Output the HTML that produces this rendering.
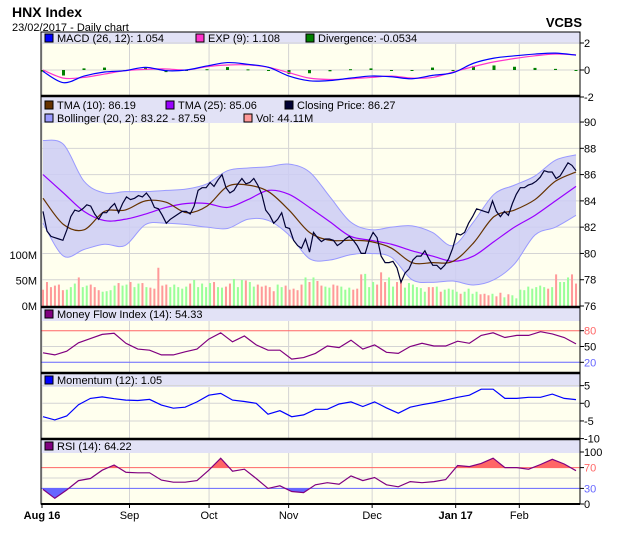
<!DOCTYPE html>
<html><head><meta charset="utf-8"><style>
html,body{margin:0;padding:0;background:#fff;}
svg{display:block;font-family:"Liberation Sans",Arial,sans-serif;}
</style></head><body>
<svg id="chart" width="620" height="535" viewBox="0 0 620 535" xmlns="http://www.w3.org/2000/svg">
<text x="12" y="17" font-size="14" font-weight="bold" fill="#000">HNX Index</text>
<text x="12" y="31" font-size="11" fill="#000">23/02/2017 - Daily chart</text>
<text x="582" y="27" font-size="13" font-weight="bold" fill="#000" text-anchor="end">VCBS</text>
<g id="layers"></g>
</svg>
<script>
// ---------- DATA ----------
const closePrices = [83.2,81.7,81.3,81.2,81.1,81.0,81.8,82.8,83.3,83.2,83.4,83.7,83.6,83.0,82.6,83.1,83.1,83.5,83.8,83.1,
83.8,84.3,84.1,84.2,84.4,84.3,84.6,84.2,83.5,83.4,82.9,82.3,82.6,82.8,83.0,83.2,83.2,83.0,83.6,84.8,
85.0,85.0,85.4,85.1,85.6,86.0,85.0,84.6,84.8,85.3,85.7,85.3,85.4,85.7,85.2,84.5,83.3,82.9,82.3,82.6,
83.1,82.0,81.9,81.0,80.6,80.4,81.1,80.1,81.6,81.2,80.9,81.1,81.1,81.0,80.6,80.8,81.1,81.3,81.0,80.6,
80.0,80.0,81.0,81.6,81.2,79.8,79.3,79.3,79.4,78.9,77.8,78.5,78.8,79.5,79.8,79.8,80.2,79.6,79.1,79.1,
78.8,79.1,79.6,80.4,81.5,81.4,81.6,82.3,82.8,83.4,83.3,83.2,83.1,84.0,83.2,82.8,83.2,82.9,83.8,84.5,
85.0,85.0,85.2,85.3,85.5,85.8,86.3,86.2,86.2,85.7,85.9,86.4,86.9,86.7,86.3];
const volumes = [32,47,37,40,42,31,32,37,44,56,37,40,42,37,31,28,29,31,40,45,40,42,47,37,44,45,37,36,34,75,
40,42,37,42,37,34,38,44,51,37,44,37,45,47,37,36,38,44,53,37,51,50,47,38,42,38,40,37,29,42,37,40,32,34,31,42,56,47,
56,49,40,38,36,42,40,38,32,36,32,34,62,63,37,47,42,66,47,56,38,47,51,36,45,42,37,35,28,37,37,38,28,32,34,32,
28,24,28,34,24,28,23,24,21,24,19,26,17,23,21,15,32,31,38,34,37,40,37,34,37,62,47,47,56,62,44];
// smoothed series, 27 samples evenly spread over the period
const tma10 = [84.2,82.2,81.8,83.2,83.3,84.0,83.9,83.1,83.6,85.1,85.2,84.7,83.3,81.6,81.0,81.0,80.9,80.4,79.3,79.3,79.4,80.8,82.8,83.3,84.1,85.5,86.2];
const tma25 = [86.0,84.6,83.2,82.5,82.6,83.0,83.5,83.8,83.8,83.5,84.1,84.8,84.5,83.5,82.4,81.3,81.0,80.7,80.2,79.8,79.4,79.8,80.9,82.0,82.9,84.0,85.1];
const bollUpper = [88.6,88.3,85.5,84.6,84.7,84.7,84.8,84.9,85.3,86.3,86.5,86.6,86.8,86.2,84.3,82.4,81.8,82.0,82.1,81.6,80.6,82.4,84.5,85.2,85.9,87.1,87.5];
const bollLower = [82.3,79.8,80.3,80.7,80.6,82.2,82.3,82.2,82.0,81.9,82.6,82.5,81.4,79.6,79.5,79.9,80.0,79.7,78.0,77.8,77.9,77.6,78.0,79.2,81.4,82.0,82.9];
const macdVals = [-0.1,-0.94,-0.45,-0.15,-0.05,0.2,-0.05,0.0,0.3,0.55,0.42,0.2,-0.45,-0.8,-0.78,-0.6,-0.45,-0.5,-0.65,-0.4,-0.2,0.5,0.88,1.05,1.18,1.25,1.1];
const expVals = [0,-0.6,-0.55,-0.3,-0.05,0.05,0.08,0.0,0.25,0.37,0.38,0.2,-0.2,-0.6,-0.7,-0.65,-0.55,-0.45,-0.6,-0.55,-0.15,0.25,0.6,0.85,1.05,1.18,1.12];
// oscillators, 46 samples evenly spread
const mfiVals = [38,34,41,57,65,73,75,56,45,43,34,34,40,45,64,76,59,70,53,43,43,26,29,37,51,48,62,45,53,39,37,50,56,51,51,60,56,71,76,67,71,71,78,74,67,55];
const momVals = [-3.8,-4.7,-3.6,-0.4,1.4,1.8,1.3,0.9,0.8,1.1,-0.5,-1.4,-1.1,0.4,2.3,2.8,0.9,0.5,0,-3.1,-2.1,-3.8,-3.3,-1.7,-1.7,-0.2,0.4,-0.9,0.4,-1.3,-2.8,-1.1,-0.4,0.2,0.9,1.7,2.3,4.0,4.0,1.4,1.4,1.7,1.7,2.6,1.4,1.05];
const rsiVals = [28,11,27,45,49,65,75,61,60,60,46,42,42,45,65,88,63,67,49,30,35,24,22,37,41,38,54,45,51,37,33,43,41,43,47,74,72,78,88,70,70,67,76,86,77,64];
const monthLabels = ["Aug 16","Sep","Oct","Nov","Dec","Jan 17","Feb"];
const monthDays = [0,22,42,62,83,104,120];
const monthBold = [true,false,false,false,false,true,false];

// ---------- LAYOUT ----------
const NS="http://www.w3.org/2000/svg";
const root=document.getElementById('layers');
const L=41, R=580, N=closePrices.length;
const xDay=d=>43+d*((R-4-43)/(N-1));
const xFrac=(k,n)=>xDay(k*(N-1)/(n-1));
function mk(tag,attrs,parent){const e=document.createElementNS(NS,tag);for(const k in attrs)e.setAttribute(k,attrs[k]);(parent||root).appendChild(e);return e;}
function txt(x,y,s,attrs,parent){const t=mk('text',Object.assign({x:x,y:y,'font-size':11,fill:'#000'},attrs||{}),parent);t.textContent=s;return t;}
const BG='#FFFFEE', HEAD='#E2E2F6', GRID='#D4D4D4';
const monthX=monthDays.map(d=>xDay(d)-1);

function panel(name,top,headH,bottom){
  const g=mk('g',{});
  
  
  mk('rect',{x:L,y:top,width:R-L,height:bottom-top,fill:BG},g);
  mk('rect',{x:L,y:top,width:R-L,height:headH,fill:HEAD},g);
  monthX.forEach(x=>mk('line',{x1:x,y1:top+headH,x2:x,y2:bottom,stroke:GRID,'stroke-width':1},g));
  return g;
}
function hgrid(g,y,color){mk('line',{x1:L,y1:y,x2:R,y2:y,stroke:color||GRID,'stroke-width':1},g);}
function rtick(g,y,label,color){mk('line',{x1:R,y1:y,x2:R+4,y2:y,stroke:'#000'},g);txt(R+4,y+4,label,{fill:color||'#000'},g);}
function legend(g,x,y,color,label){const s=mk('rect',{x:x,y:y-8,width:8,height:8,fill:color,stroke:'#000','stroke-width':1},g);const t=txt(x+12,y,label,{},g);}
function smoothPath(pts){let d='M'+pts[0][0]+','+pts[0][1];for(let i=0;i<pts.length-1;i++){const p0=pts[Math.max(0,i-1)],p1=pts[i],p2=pts[i+1],p3=pts[Math.min(pts.length-1,i+2)];d+=' C'+(p1[0]+(p2[0]-p0[0])/6)+','+(p1[1]+(p2[1]-p0[1])/6)+' '+(p2[0]-(p3[0]-p1[0])/6)+','+(p2[1]-(p3[1]-p1[1])/6)+' '+p2[0]+','+p2[1];}return d;}
function poly(pts){return pts.map(p=>p[0].toFixed(1)+','+p[1].toFixed(1)).join(' ');}

// ---------- MACD ----------
const mTop=32, mHead=12, mBot=96;
const yM=v=>70-v*13.5;
const gM=panel('macd-panel',mTop,mHead,mBot);
[2,0,-2].forEach(v=>{hgrid(gM,yM(v));rtick(gM,yM(v),String(v));});
macdVals.forEach((v,k)=>{
  const dv=v-expVals[k];const y0=yM(0),y1=yM(dv*1.2);
  const b=mk('rect',{x:xFrac(k,macdVals.length)-1.5,y:Math.min(y0,y1),width:3,height:Math.max(1,Math.abs(y1-y0)),fill:'#008000'},gM);
  
});
const expLine=mk('path',{d:smoothPath(expVals.map((v,k)=>[xFrac(k,expVals.length),yM(v)])),fill:'none',stroke:'#FF33CC','stroke-width':1.2},gM);

const macdLine=mk('path',{d:smoothPath(macdVals.map((v,k)=>[xFrac(k,macdVals.length),yM(v)])),fill:'none',stroke:'#0000FF','stroke-width':1.2},gM);

legend(gM,45,42,'#0000FF','MACD (26, 12): 1.054');
legend(gM,196,42,'#FF33CC','EXP (9): 1.108');
legend(gM,306,42,'#008000','Divergence: -0.0534');

// ---------- MAIN PRICE ----------
const pTop=97, pHead=26, pBot=306;
const yP=v=>306-(v-76)*13.14;
const yV=v=>306-v*0.51;
const gP=panel('price-panel',pTop,pHead,pBot);
[88,86,84,82,80,78].forEach(v=>hgrid(gP,yP(v)));
[90,88,86,84,82,80,78,76].forEach(v=>rtick(gP,yP(v),String(v)));
[[100,'100M'],[50,'50M'],[0,'0M']].forEach(a=>{const t=txt(37,yV(a[0])+4,a[1],{'text-anchor':'end'});});
volumes.forEach((v,i)=>{
  const up=i===0?false:closePrices[i]>=closePrices[i-1];
  const b=mk('rect',{x:xDay(i)-1,y:yV(v),width:2,height:306-yV(v),fill:up?'#99FF99':'#FF9999'},gP);
  
});
const nb=bollUpper.length;
const up=bollUpper.map((v,k)=>[xFrac(k,nb),yP(v)]), lo=bollLower.map((v,k)=>[xFrac(k,nb),yP(v)]);
const lop=smoothPath(lo.slice().reverse());
const band=mk('path',{d:smoothPath(up)+' L'+lop.slice(1)+' Z',fill:'#CCCCF4','fill-opacity':0.85,stroke:'none'},gP);

mk('path',{d:smoothPath(up),fill:'none',stroke:'#9999FF','stroke-width':1},gP);
mk('path',{d:smoothPath(lo),fill:'none',stroke:'#9999FF','stroke-width':1},gP);
const t25=mk('path',{d:smoothPath(tma25.map((v,k)=>[xFrac(k,tma25.length),yP(v)])),fill:'none',stroke:'#9900FF','stroke-width':1.2},gP);

const t10=mk('path',{d:smoothPath(tma10.map((v,k)=>[xFrac(k,tma10.length),yP(v)])),fill:'none',stroke:'#663300','stroke-width':1.2},gP);

const cl=mk('polyline',{points:poly(closePrices.map((v,i)=>[xDay(i),yP(v)])),fill:'none',stroke:'#000033','stroke-width':1.2},gP);

mk('rect',{x:L,y:pTop,width:R-L,height:pHead,fill:HEAD},gP);
legend(gP,45,109,'#663300','TMA (10): 86.19');
legend(gP,166,109,'#9900FF','TMA (25): 85.06');
legend(gP,285,109,'#000033','Closing Price: 86.27');
legend(gP,45,122,'#9999FF','Bollinger (20, 2): 83.22 - 87.59');
legend(gP,244,122,'#FF9999','Vol: 44.11M');

// ---------- MFI ----------
const fTop=308, fHead=13, fBot=372;
const yF=v=>346.5-(v-50)*0.527;
const gF=panel('mfi-panel',fTop,fHead,fBot);
hgrid(gF,yF(50));hgrid(gF,yF(80),'#FF6666');hgrid(gF,yF(20),'#6666FF');
rtick(gF,yF(80),'80','#FF6666');rtick(gF,yF(50),'50');rtick(gF,yF(20),'20','#6666FF');
const mfiL=mk('polyline',{points:poly(mfiVals.map((v,k)=>[xFrac(k,mfiVals.length),yF(v)])),fill:'none',stroke:'#800080','stroke-width':1.2},gF);

legend(gF,45,318,'#800080','Money Flow Index (14): 54.33');

// ---------- MOMENTUM ----------
const oTop=374, oHead=13, oBot=438;
const yO=v=>403.3-v*3.53;
const gO=panel('momentum-panel',oTop,oHead,oBot);
[5,0,-5].forEach(v=>hgrid(gO,yO(v)));
[5,0,-5,-10].forEach(v=>rtick(gO,yO(v),String(v)));
const momL=mk('polyline',{points:poly(momVals.map((v,k)=>[xFrac(k,momVals.length),yO(v)])),fill:'none',stroke:'#0000FF','stroke-width':1.2},gO);

legend(gO,45,384,'#0000FF','Momentum (12): 1.05');

// ---------- RSI ----------
const sTop=440, sHead=13, sBot=504;
const yS=v=>504-v*0.52;
const gS=panel('rsi-panel',sTop,sHead,sBot);
hgrid(gS,yS(50));
const rp=rsiVals.map((v,k)=>[xFrac(k,rsiVals.length),yS(v)]);
const defs=mk('defs',{},gS);
const c1=mk('clipPath',{id:'above70'},defs);mk('rect',{x:L,y:sTop,width:R-L,height:yS(70)-sTop},c1);
const c2=mk('clipPath',{id:'below30'},defs);mk('rect',{x:L,y:yS(30),width:R-L,height:sBot-yS(30)},c2);
const first=rp[0][0], last=rp[rp.length-1][0];
const f1=mk('polygon',{points:poly([[first,yS(70)]].concat(rp,[[last,yS(70)]])),fill:'#FF6666','clip-path':'url(#above70)'},gS);

const f2=mk('polygon',{points:poly([[first,yS(30)]].concat(rp,[[last,yS(30)]])),fill:'#6666FF','clip-path':'url(#below30)'},gS);

hgrid(gS,yS(70),'#FF6666');hgrid(gS,yS(30),'#6666FF');
rtick(gS,yS(100),'100');rtick(gS,yS(70),'70','#FF6666');rtick(gS,yS(30),'30','#6666FF');rtick(gS,yS(0),'0');
const rsiL=mk('polyline',{points:poly(rp),fill:'none',stroke:'#800080','stroke-width':1.2},gS);

legend(gS,45,450,'#800080','RSI (14): 64.22');

// ---------- FRAMES ----------
mk('rect',{x:L,y:mTop,width:R-L,height:sBot-mTop,fill:'none',stroke:'#000','stroke-width':1});
[96,307,373,439].forEach(y=>mk('line',{x1:L,y1:y,x2:R,y2:y,stroke:'#000','stroke-width':2.5}));
mk('line',{x1:L,y1:504,x2:R,y2:504,stroke:'#000','stroke-width':2});
monthLabels.forEach((s,i)=>{
  mk('line',{x1:monthX[i],y1:504,x2:monthX[i],y2:508,stroke:'#000'});
  const t=txt(monthX[i],519,s,{'text-anchor':'middle','font-weight':monthBold[i]?'bold':'normal'});
  
});
</script>
</body></html>
